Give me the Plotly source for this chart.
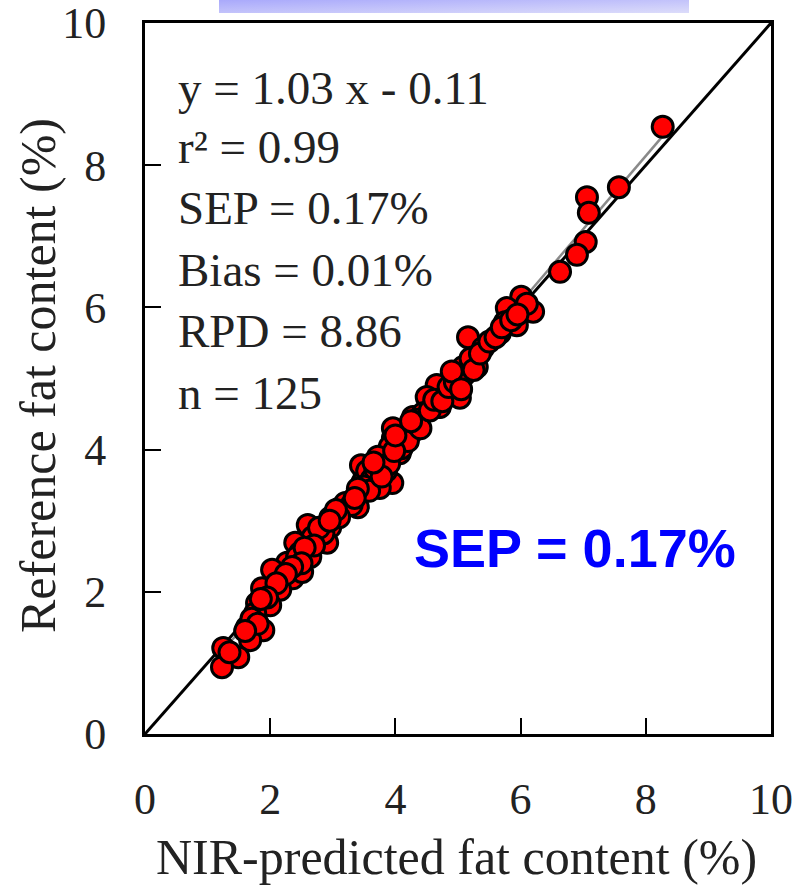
import base64
import plotly.graph_objects as go

# ---- data ----
nir_predicted = [
    8.27, 7.57, 7.06, 7.09, 7.04, 6.90, 6.63, 6.01, 6.20, 5.78, 5.75, 5.94, 5.67,
    5.16, 5.40, 5.30, 5.08, 5.03, 4.90, 4.79, 4.66, 4.50, 5.03, 4.68, 4.28, 4.44,
    3.96, 4.27, 4.71, 4.35, 4.27, 3.96, 3.91, 4.07, 3.59, 3.51, 3.47, 3.71, 3.95,
    3.75, 3.40, 3.12, 2.96, 2.96, 2.60, 2.68, 2.40, 2.91, 2.48, 2.27, 2.43, 2.64,
    2.03, 2.36, 2.51, 1.87, 2.16, 1.79, 2.00, 1.76, 1.89, 1.63, 1.68, 1.25, 1.49,
    1.23,
    3.45, 3.55, 3.62, 3.68, 3.80, 3.85, 3.72, 3.90, 3.50, 3.58, 3.78, 4.05, 4.10,
    4.15, 4.20, 3.98, 4.30, 4.40, 4.55, 4.62, 4.75, 4.85, 4.95, 5.10, 5.20, 5.25,
    5.35, 5.50, 5.60, 5.70, 5.85, 3.20, 3.30, 3.10, 3.05, 2.85, 2.78, 2.70, 2.55,
    2.50, 2.35, 2.25, 2.10, 1.95, 1.85, 1.70, 1.80, 1.60, 1.35, 3.40, 3.35, 3.65,
    4.00, 4.25, 4.90, 5.05, 6.10, 5.95, 2.95,
]
reference = [
    8.54, 7.69, 7.55, 7.33, 6.92, 6.74, 6.50, 6.15, 5.94, 5.99, 5.79, 5.75, 5.64,
    5.58, 5.43, 5.16, 5.16, 5.01, 5.02, 4.81, 4.91, 4.74, 4.73, 4.60, 4.46, 4.51,
    4.30, 4.32, 4.60, 4.42, 4.25, 4.16, 4.04, 3.95, 3.76, 3.64, 3.53, 3.57, 3.53,
    3.46, 3.19, 3.18, 3.04, 2.91, 2.94, 2.77, 2.69, 2.69, 2.55, 2.41, 2.49, 2.49,
    2.31, 2.19, 2.28, 2.05, 2.03, 1.84, 1.81, 1.70, 1.46, 1.50, 1.32, 1.21, 1.08,
    0.94,
    3.78, 3.70, 3.58, 3.72, 3.85, 3.70, 3.90, 3.80, 3.48, 3.42, 3.62, 4.10, 4.02,
    4.20, 4.12, 3.98, 4.38, 4.30, 4.55, 4.70, 4.68, 4.88, 4.95, 5.05, 5.28, 5.12,
    5.35, 5.52, 5.58, 5.72, 5.82, 3.25, 3.22, 3.05, 3.15, 2.82, 2.90, 2.65, 2.62,
    2.40, 2.35, 2.25, 2.12, 1.92, 1.90, 1.62, 1.55, 1.45, 1.15, 3.45, 3.32, 3.82,
    4.20, 4.40, 5.10, 4.85, 6.05, 5.90, 3.00,
]
identity_line = [0, 10]
fit_slope = 1.03
fit_intercept = -0.11
fit_x = [min(nir_predicted), max(nir_predicted)]
fit_y = [fit_slope * v + fit_intercept for v in fit_x]

tick_vals = [0, 2, 4, 6, 8, 10]
tick_text = ["0", "2", "4", "6", "8", "10"]
stats_lines = ["y = 1.03 x - 0.11", "r² = 0.99", "SEP = 0.17%",
               "Bias = 0.01%", "RPD = 8.86", "n = 125"]
sep_label = "SEP = 0.17%"
x_title = "NIR-predicted fat content (%)"
y_title = "Reference fat content (%)"

# ---- layout geometry (pixels) ----
W, H = 792, 885
L, R, T, B = 145, 771, 23, 734


def px_x(p):
    return (p - L) / (R - L)


def px_y(p):
    return (B - p) / (B - T)


SERIF = "Liberation Serif, Times New Roman, serif"
TXT = "#222222"

fig = go.Figure()

fig.add_trace(go.Scatter(
    x=identity_line, y=identity_line, mode="lines",
    line=dict(color="black", width=3), hoverinfo="skip", showlegend=False))
fig.add_trace(go.Scatter(
    x=fit_x, y=fit_y, mode="lines",
    line=dict(color="#8a8a8a", width=2.5), hoverinfo="skip", showlegend=False))
fig.add_trace(go.Scatter(
    x=nir_predicted, y=reference, mode="markers",
    marker=dict(size=21, color="#ff0000", line=dict(color="black", width=3)),
    showlegend=False, cliponaxis=False))

axis_common = dict(
    range=[0, 10], tickvals=tick_vals, ticktext=tick_text,
    showgrid=False, zeroline=False, showline=True, linecolor="black",
    linewidth=3, mirror=True, ticks="inside", ticklen=16, tickwidth=2,
    tickcolor="black", tickfont=dict(family=SERIF, size=44, color=TXT),
    ticklabeloverflow="allow", automargin=False,
)

fig.update_layout(
    width=W, height=H,
    margin=dict(l=L, r=W - R, t=T, b=H - B, autoexpand=False),
    paper_bgcolor="white", plot_bgcolor="white",
    xaxis=dict(**axis_common, ticklabelstandoff=24),
    yaxis=dict(**axis_common, ticklabelstandoff=27),
)

annotations = []
stat_y = [88, 147, 208, 270, 331, 393]
for txt, yy in zip(stats_lines, stat_y):
    annotations.append(dict(
        text=txt, xref="paper", yref="paper", x=px_x(176), y=px_y(yy),
        xanchor="left", yanchor="middle", showarrow=False,
        font=dict(family=SERIF, size=47, color=TXT)))

annotations.append(dict(
    text=sep_label, xref="paper", yref="paper", x=px_x(575), y=px_y(548),
    xanchor="center", yanchor="middle", showarrow=False,
    font=dict(family="Liberation Sans, Arial, sans-serif", size=54,
              color="#0000ff", weight="bold")))

annotations.append(dict(
    text=x_title, xref="paper", yref="paper", x=px_x(456), y=px_y(857),
    xanchor="center", yanchor="middle", showarrow=False,
    font=dict(family=SERIF, size=50, color=TXT)))
annotations.append(dict(
    text=y_title, xref="paper", yref="paper", x=px_x(38), y=px_y(376),
    xanchor="center", yanchor="middle", showarrow=False, textangle=-90,
    font=dict(family=SERIF, size=50, color=TXT)))
fig.update_layout(annotations=annotations)

# gradient banner at the top (cut-off title box)
svg = ('<svg xmlns="http://www.w3.org/2000/svg" width="470" height="13" '
       'preserveAspectRatio="none">'
       '<defs><linearGradient id="g" x1="0" y1="0" x2="1" y2="1">'
       '<stop offset="0" stop-color="#a9a9fb"/>'
       '<stop offset="1" stop-color="#dcdcfa"/></linearGradient></defs>'
       '<rect width="470" height="13" fill="url(#g)"/></svg>')
uri = "data:image/svg+xml;base64," + base64.b64encode(svg.encode()).decode()
fig.add_layout_image(dict(
    source=uri, xref="paper", yref="paper",
    x=px_x(219), y=px_y(0), sizex=(689 - 219) / (R - L), sizey=13 / (B - T),
    xanchor="left", yanchor="top", sizing="stretch", layer="above"))

fig.write_html("out.html",
               config={"displayModeBar": False},
               post_script="document.body.style.margin='0';"
                           "document.body.style.overflow='hidden';")
